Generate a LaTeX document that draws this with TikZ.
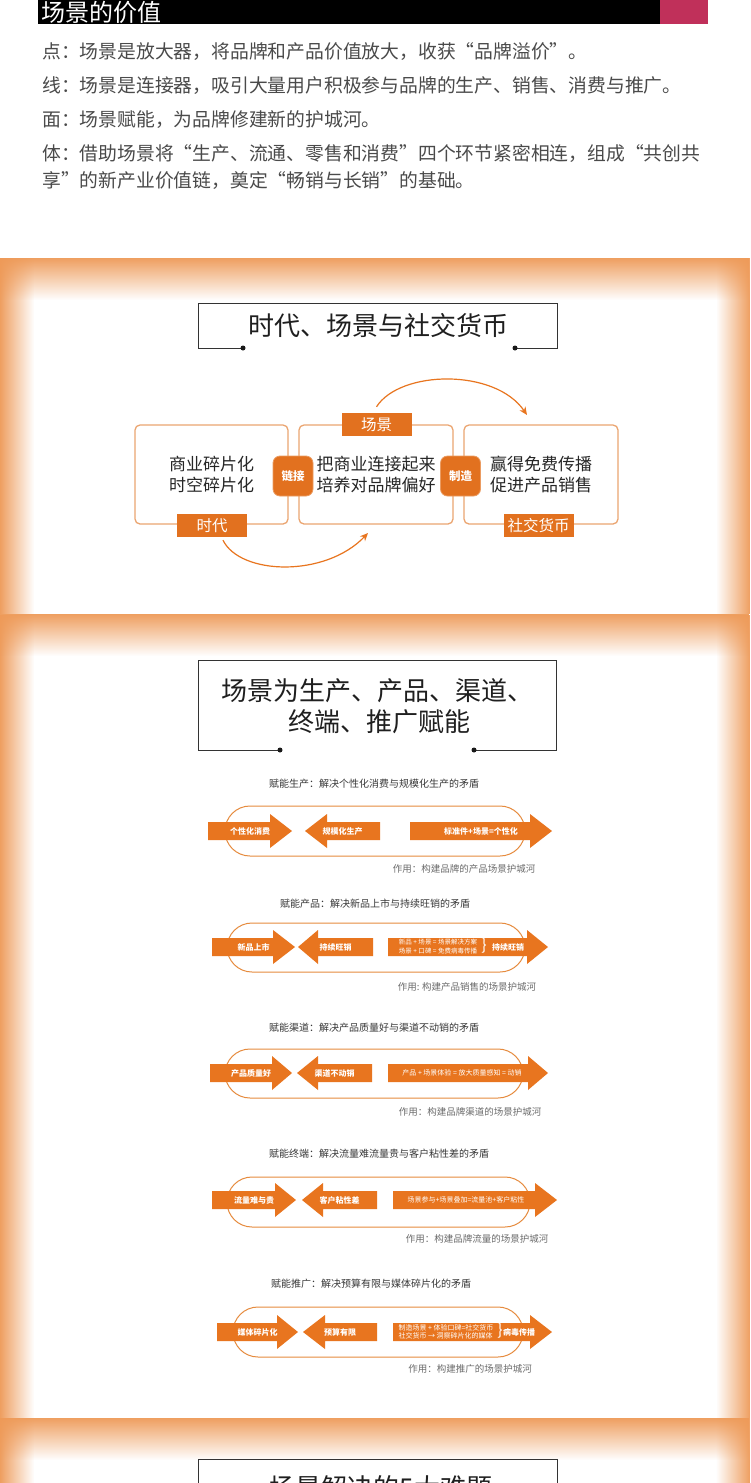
\documentclass[tikz,border=0pt]{standalone}
\usepackage{fontspec}
\setmainfont{Noto Sans CJK SC}
\usetikzlibrary{fadings,arrows.meta}
\definecolor{glow}{HTML}{EE9A58}
\definecolor{org}{HTML}{E8751F}
\definecolor{lab}{HTML}{E2711F}
\definecolor{boxl}{HTML}{EBA571}
\definecolor{capl}{HTML}{E68B3E}
\definecolor{crim}{HTML}{C0305A}
\definecolor{bodyt}{HTML}{4A4A4A}
\tikzfading[name=topglow, top color=transparent!5, middle color=transparent!82, bottom color=transparent!100]
\tikzfading[name=leftglow, left color=transparent!5, middle color=transparent!82, right color=transparent!100]
\tikzfading[name=rightglow, right color=transparent!5, middle color=transparent!82, left color=transparent!100]
\tikzset{
  para/.style={anchor=west, font=\fontsize{18.8}{21}\selectfont, text=bodyt, inner sep=0},
  ttlbox/.style={draw=black!80, line width=0.9},
  ttltext/.style={font=\fontsize{26}{31}\selectfont, text=black!88, inner sep=0, align=center},
  dot/.style={circle, fill=black!90, inner sep=0, minimum size=5},
  panel/.style={draw=boxl, line width=1.3, rounded corners=5, font=\fontsize{17}{20.5}\selectfont, text=black!85, align=center, minimum height=99},
  plabel/.style={fill=lab, text=white, font=\fontsize{15.5}{18}\selectfont, inner sep=0, minimum width=70, minimum height=23},
  badge/.style={fill=lab, draw=lab!70, line width=0.8, text=white, font=\bfseries\fontsize{11.5}{14}\selectfont, rounded corners=7, inner sep=0, minimum width=40, minimum height=40},
  flow/.style={draw=org, line width=1.2, -{Stealth[length=8,width=7]}},
  capsule/.style={draw=capl, line width=1, rounded corners=25},
  atext/.style={text=white, font=\bfseries\fontsize{8}{9.5}\selectfont, inner sep=0},
  stext/.style={text=white, font=\fontsize{7}{8.5}\selectfont, inner sep=0, align=left},
  rhead/.style={text=black!78, font=\fontsize{10}{12}\selectfont, inner sep=0},
  rfoot/.style={text=black!58, font=\fontsize{9.5}{11}\selectfont, inner sep=0},
}
\newcommand\myRarr[6]{% name, xL, xH, xTip, y, text
  \fill[org] (#2,#5-9) -- (#3,#5-9) -- (#3,#5-17) -- (#4,#5) -- (#3,#5+17) -- (#3,#5+9) -- (#2,#5+9) -- cycle;
  \node[atext] (#1) at ({(#2+#4)/2},#5) {#6};
}
\newcommand\myLarr[6]{% name, xTip, xH, xR, y, text
  \fill[org] (#4,#5-9) -- (#3,#5-9) -- (#3,#5-17) -- (#2,#5) -- (#3,#5+17) -- (#3,#5+9) -- (#4,#5+9) -- cycle;
  \node[atext] (#1) at ({(#2+#4)/2},#5) {#6};
}
\newcommand\mySection[2]{% y0, y1
  \fill[glow, path fading=leftglow] (0,#1) rectangle (34,#2);
  \fill[glow, path fading=rightglow] (716,#1) rectangle (750,#2);
  \fill[glow, path fading=topglow] (0,#1) rectangle (750,#1+42);
}
\begin{document}
\begin{tikzpicture}[x=1pt,y=-1pt]
\clip (0,0) rectangle (750,1483);
\fill[white] (0,0) rectangle (750,1483);

% ---------- header ----------
\fill[black] (38,0) rectangle (660,24);
\fill[crim] (660,0) rectangle (708,24);
\node[anchor=base west, text=white, font=\fontsize{24}{27}\selectfont, inner sep=0] (hdr) at (41,21.5) {场景的价值};

\node[para] (p1) at (42,52) {点：场景是放大器，将品牌和产品价值放大，收获“品牌溢价”。};
\node[para] (p2) at (42,86) {线：场景是连接器，吸引大量用户积极参与品牌的生产、销售、消费与推广。};
\node[para] (p3) at (42,120) {面：场景赋能，为品牌修建新的护城河。};
\node[para] (p4) at (42,154) {体：借助场景将“生产、流通、零售和消费”四个环节紧密相连，组成“共创共};
\node[para] (p5) at (42,181) {享”的新产业价值链，奠定“畅销与长销”的基础。};

% ---------- section glows ----------
\mySection{258}{614}
\mySection{614}{1418}
\mySection{1418}{1483}

% ---------- section 1 ----------
\coordinate (t1l) at (243,348);
\coordinate (t1r) at (515,348);
\draw[ttlbox] (t1l) -- (198,348) -- (198,303) -- (557,303) -- (557,348) -- (t1r);
\node[dot] (d1) at (t1l) {};
\node[dot] (d2) at (t1r) {};
\node[ttltext] (t1) at (378,326) {时代、场景与社交货币};

\node[panel, minimum width=153] (pa) at (211.5,474.5) {商业碎片化\\时空碎片化};
\node[panel, minimum width=154] (pb) at (376,474.5) {把商业连接起来\\培养对品牌偏好};
\node[panel, minimum width=154] (pc) at (541,474.5) {赢得免费传播\\促进产品销售};

\node[plabel] (lscene) at (376.5,424.5) {场景};
\node[plabel] (lera) at (212,525.5) {时代};
\node[plabel] (lsoc) at (538.5,525.5) {社交货币};

\node[badge] (blink) at (293,476) {链接};
\node[badge] (bmake) at (460.5,476) {制造};

\coordinate (upend) at (527,415);
\coordinate (lowend) at (368,533);
\draw[flow] ([yshift=6pt]lscene.north) .. controls (400,370) and (495,368) .. (upend);
\draw[flow] ([xshift=11pt,yshift=-3pt]lera.south) .. controls (240,575) and (325,578) .. (lowend);

% ---------- section 2 ----------
\coordinate (t2l) at (280,750);
\coordinate (t2r) at (474,750);
\draw[ttlbox] (t2l) -- (198,750) -- (198,660) -- (556,660) -- (556,750) -- (t2r);
\node[dot] (d3) at (t2l) {};
\node[dot] (d4) at (t2r) {};
\node[ttltext] (t2a) at (377,691) {场景为生产、产品、渠道、};
\node[ttltext] (t2b) at (379,722) {终端、推广赋能};

% row 1
\node[rhead] (h1) at (374,784) {赋能生产：解决个性化消费与规模化生产的矛盾};
\draw[capsule] (225,806) rectangle (525,856);
\myRarr{r1a}{208}{270}{292}{831}{个性化消费}
\myLarr{r1b}{305}{327}{380}{831}{规模化生产}
\myRarr{r1c}{410}{530}{552}{831}{标准件+场景=个性化}
\node[rfoot] (f1) at (464,869) {作用：构建品牌的产品场景护城河};

% row 2
\node[rhead] (h2) at (375,904) {赋能产品：解决新品上市与持续旺销的矛盾};
\draw[capsule] (227,923) rectangle (525,972);
\myRarr{r2a}{212}{273}{295}{947}{新品上市}
\myLarr{r2b}{298}{318}{373}{947}{持续旺销}
\myRarr{r2c}{388}{527}{548}{947}{}
\node[stext, font=\fontsize{6.5}{9}\selectfont] (r2t) at (438,947) {新品 + 场景 = 场景解决方案\\场景 + 口碑 = 免费病毒传播};
\node[text=white, inner sep=0, font=\fontsize{16}{16}\selectfont] (r2br) at (484,946) {\}};
\node[atext] (r2d) at (508,947) {持续旺销};
\node[rfoot] (f2) at (467,987) {作用: 构建产品销售的场景护城河};

% row 3
\node[rhead] (h3) at (374,1028) {赋能渠道：解决产品质量好与渠道不动销的矛盾};
\draw[capsule] (225,1049) rectangle (523,1098);
\myRarr{r3a}{210}{272}{292}{1073}{产品质量好}
\myLarr{r3b}{297}{318}{372}{1073}{渠道不动销}
\myRarr{r3c}{388}{528}{548}{1073}{}
\node[stext] (r3t) at (462,1073) {产品 + 场景体验 = 放大质量感知 = 动销};
\node[rfoot] (f3) at (470,1112) {作用：构建品牌渠道的场景护城河};

% row 4
\node[rhead] (h4) at (379,1154) {赋能终端：解决流量难流量贵与客户粘性差的矛盾};
\draw[capsule] (227,1177) rectangle (530,1227);
\myRarr{r4a}{212}{275}{296}{1200}{流量难与贵}
\myLarr{r4b}{302}{323}{377}{1200}{客户粘性差}
\myRarr{r4c}{393}{535}{557}{1200}{}
\node[stext] (r4t) at (466,1200) {场景参与+场景叠加=流量池+客户粘性};
\node[rfoot] (f4) at (477,1239) {作用：构建品牌流量的场景护城河};

% row 5
\node[rhead] (h5) at (371,1284) {赋能推广：解决预算有限与媒体碎片化的矛盾};
\draw[capsule] (233,1307) rectangle (523,1357);
\myRarr{r5a}{217}{277}{298}{1332}{媒体碎片化}
\myLarr{r5b}{303}{325}{377}{1332}{预算有限}
\myRarr{r5c}{393}{530}{552}{1332}{}
\node[stext] (r5t) at (446,1332) {制造场景 + 体验口碑=社交货币\\社交货币 → 洞察碎片化的媒体};
\node[text=white, inner sep=0, font=\fontsize{16}{16}\selectfont] (r5br) at (500,1331) {\}};
\node[atext] (r5d) at (519,1332) {病毒传播};
\node[rfoot] (f5) at (470,1369) {作用：构建推广的场景护城河};

% ---------- section 3 ----------
\draw[ttlbox] (198,1500) -- (198,1459) -- (557,1459) -- (557,1500);
\node[ttltext] (t3) at (381,1488) {场景解决的5大难题};
\end{tikzpicture}
\end{document}
